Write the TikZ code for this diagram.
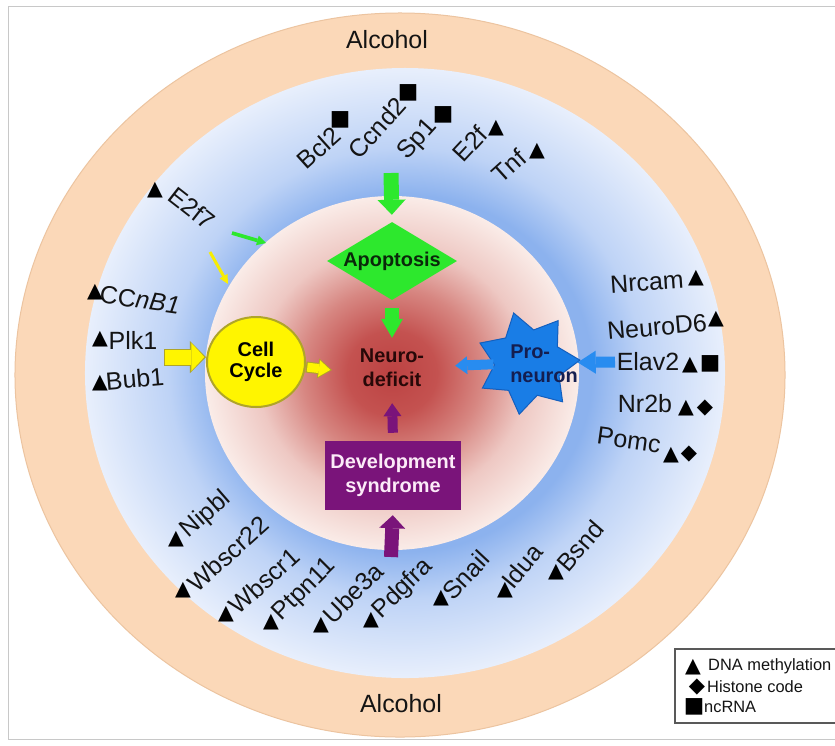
\documentclass[tikz,border=0pt]{standalone}
\usepackage{fontspec}
\setmainfont{Liberation Sans}
\newfontfamily\symf{DejaVu Sans}
\usetikzlibrary{arrows.meta,shapes.geometric}

\definecolor{peach}{RGB}{251,216,184}
\definecolor{peachD}{RGB}{236,196,160}
\definecolor{blueIn}{RGB}{140,178,238}
\definecolor{blueMid}{RGB}{190,211,246}
\definecolor{blueOut}{RGB}{232,239,252}
\definecolor{redC}{RGB}{188,66,66}
\definecolor{redA}{RGB}{196,82,80}
\definecolor{redM}{RGB}{215,135,130}
\definecolor{pinkL}{RGB}{238,200,195}
\definecolor{pinkE}{RGB}{250,236,232}
\definecolor{grn}{RGB}{45,232,45}
\definecolor{ylw}{RGB}{255,245,0}
\definecolor{olv}{RGB}{175,165,40}
\definecolor{bstar}{RGB}{25,125,230}
\definecolor{bstarD}{RGB}{20,95,190}
\definecolor{barr}{RGB}{40,140,240}
\definecolor{purp}{RGB}{122,20,122}
\definecolor{txt}{RGB}{20,20,20}
\definecolor{ndtext}{RGB}{40,8,8}
\definecolor{apotext}{RGB}{10,40,10}
\definecolor{pntext}{RGB}{20,30,80}
\definecolor{devtext}{RGB}{252,235,248}
\definecolor{framegray}{RGB}{200,200,200}

\pgfdeclareradialshading{bluering}{\pgfpoint{0bp}{0bp}}{%
  color(0bp)=(blueIn); color(14.6bp)=(blueIn); color(18.5bp)=(blueMid); color(25bp)=(blueOut); color(50bp)=(blueOut)}
\pgfdeclareradialshading{pinkcore}{\pgfpoint{0bp}{0bp}}{%
  color(0bp)=(redC); color(6bp)=(redA); color(12bp)=(redM); color(18bp)=(pinkL); color(25bp)=(pinkE); color(50bp)=(pinkE)}

\begin{document}
\begin{tikzpicture}[x=0.03cm,y=-0.03cm,
  gene/.style={font=\fontsize{21.3}{24}\selectfont, text=txt, inner sep=0pt},
  tri/.style={font=\symf\fontsize{17.5}{17.5}\selectfont, text=black, inner sep=0pt},
  sqr/.style={font=\symf\fontsize{18.5}{18.5}\selectfont, text=black, inner sep=0pt},
  dia/.style={font=\symf\fontsize{18}{18}\selectfont, text=black, inner sep=0pt},
  lab/.style={font=\bfseries\fontsize{17}{20.5}\selectfont, align=center, inner sep=0pt},
  leg/.style={font=\fontsize{14}{16}\selectfont, text=txt, inner sep=0pt, anchor=west},
  gA/.style={draw=grn, line width=0.45cm, -{Triangle[length=0.45cm,width=0.84cm,line width=0pt]}},
  gB/.style={draw=grn, line width=0.42cm, -{Triangle[length=0.57cm,width=0.66cm,line width=0pt]}},
  pA/.style={draw=purp, line width=0.30cm, -{Triangle[length=0.39cm,width=0.54cm,line width=0pt]}},
  pB/.style={draw=purp, line width=0.42cm, -{Triangle[length=0.39cm,width=0.78cm,line width=0pt]}},
  yAo/.style={draw=olv, line width=0.51cm, -{Triangle[length=0.48cm,width=0.96cm,line width=0pt]}},
  yA/.style={draw=ylw, line width=0.45cm, -{Triangle[length=0.39cm,width=0.84cm,line width=0pt]}},
  yBo/.style={draw=olv, line width=0.33cm, -{Triangle[length=0.42cm,width=0.60cm,line width=0pt]}},
  yB/.style={draw=ylw, line width=0.27cm, -{Triangle[length=0.34cm,width=0.50cm,line width=0pt]}},
  bA/.style={draw=barr, line width=0.33cm, -{Triangle[length=0.54cm,width=0.69cm,line width=0pt]}},
  bB/.style={draw=barr, line width=0.30cm, -{Triangle[length=0.36cm,width=0.54cm,line width=0pt]}},
  sgA/.style={draw=grn, line width=0.11cm, -{Triangle[length=0.27cm,width=0.30cm,line width=0pt]}},
  syA/.style={draw=ylw!90!olv, line width=0.09cm, -{Triangle[length=0.27cm,width=0.27cm,line width=0pt]}},
 ]
\useasboundingbox (0,0) rectangle (835,745);
\fill[white] (0,0) rectangle (835,745);
\draw[framegray, line width=0.03cm] (8,6) rectangle (850,739);

% rings
\fill[peach, draw=peachD, line width=0.03cm] (400,375) ellipse [x radius=11.55cm, y radius=10.86cm];
\shade[shading=bluering] (405,373) ellipse [x radius=9.6cm, y radius=9.15cm];
\shade[shading=pinkcore] (392,373) ellipse [x radius=5.61cm, y radius=5.31cm];

% Alcohol
\node[gene] (alc1) at (387,40) {Alcohol};
\node[gene] (alc2) at (401,704) {Alcohol};

% central nodes
\node[diamond, aspect=1.67, fill=grn, lab, text=apotext, minimum width=3.9cm, minimum height=2.34cm] (apop) at (392,261) {Apoptosis};
\node[ellipse, fill=ylw, draw=olv, line width=0.06cm, minimum width=2.94cm, minimum height=2.7cm, lab, font=\bfseries\fontsize{17}{18.5}\selectfont, text=black] (cc) at (256,362) {Cell\\Cycle};
\node[star, star points=7, star point ratio=1.55, minimum size=3.12cm, inner sep=0pt, fill=bstar, draw=bstarD, line width=0.03cm, shape border rotate=16] (pn) at (528,363) {};
\node[lab, text=pntext, align=left] (pnl) at (544,364) {Pro-\\neuron};
\node[lab, text=ndtext, minimum width=2.1cm, minimum height=1.68cm] (nd) at (392,368) {Neuro-\\deficit};
\node[rectangle, fill=purp, lab, text=devtext, minimum width=4.08cm, minimum height=2.07cm] (dev) at (393,475.5) {Development\\syndrome};

% arrows
\coordinate (gtop) at (391,173);
\draw[gA, shorten >=0.21cm] (gtop) -- (apop.north);
\draw[gB, shorten <=0.24cm, shorten >=0.06cm] (apop.south) -- (nd.north);
\draw[pA, shorten <=0.24cm, shorten >=0.21cm] (dev.north) -- (nd.south);
\coordinate (pbot) at (391,557);
\draw[pB, shorten >=0.15cm] (pbot) -- (dev.south);
\coordinate (yl) at (165,357);
\draw[yAo, shorten <=-0.03cm] (yl) -- ([yshift=0.15cm]cc.west);
\draw[yA, shorten >=0.05cm] (yl) -- ([yshift=0.15cm]cc.west);
\draw[yBo, shorten >=0.75cm] ([yshift=-0.15cm]cc.east) -- ([yshift=-0.15cm]nd.west);
\draw[yB, shorten >=0.8cm, shorten <=0.04cm] ([yshift=-0.15cm]cc.east) -- ([yshift=-0.15cm]nd.west);
\coordinate (bin) at (615,362);
\draw[bA] (bin) -- (pn);
\draw[bB, shorten >=0.84cm] (pn) -- (nd);
\coordinate (sg1) at (232,233);
\coordinate (sg2) at (266,243);
\draw[sgA] (sg1) -- (sg2);
\coordinate (sy1) at (210,252);
\coordinate (sy2) at (228,284);
\draw[syA] (sy1) -- (sy2);

% top genes
\node[gene, rotate=42] (bcl2) at (319,148) {Bcl2};
\node[sqr] (bcl2s) at (340,120) {■};
\node[gene, rotate=48] (ccnd2) at (377,128) {Ccnd2};
\node[sqr] (ccnd2s) at (408,93) {■};
\node[gene, rotate=48] (sp1) at (418,140) {Sp1};
\node[sqr] (sp1s) at (443,115) {■};
\node[gene, rotate=47] (e2f) at (470,144) {E2f};
\node[tri] (e2ft) at (496,128) {▲};
\node[gene, rotate=42] (tnf) at (509,166) {Tnf};
\node[tri] (tnft) at (537,151) {▲};
\node[gene, rotate=-38] (e2f7) at (192,208) {E2f7};
\node[tri] (e2f7t) at (155,190) {▲};

% left genes
\node[gene, rotate=-8] (ccnb1) at (140,300) {CC\textit{nB1}};
\node[tri] (ccnb1t) at (95,292) {▲};
\node[gene] (plk1) at (133,340) {Plk1};
\node[tri] (plk1t) at (100,339) {▲};
\node[gene, rotate=5] (bub1) at (135,379) {Bub1};
\node[tri] (bub1t) at (100,383) {▲};

% right genes
\node[gene, rotate=4] (nrcam) at (647,282) {Nrcam};
\node[tri] (nrcamt) at (696,278) {▲};
\node[gene, rotate=5] (neurod6) at (657,327) {NeuroD6};
\node[tri] (neurod6t) at (716,319) {▲};
\node[gene] (elav2) at (648,362) {Elav2};
\node[tri] (elav2t) at (690,365) {▲};
\node[sqr] (elav2s) at (710,364) {■};
\node[gene] (nr2b) at (645,404) {Nr2b};
\node[tri] (nr2bt) at (686,408) {▲};
\node[dia] (nr2bd) at (705,408) {◆};
\node[gene, rotate=-8] (pomc) at (629,440) {Pomc};
\node[tri] (pomct) at (671,455) {▲};
\node[dia] (pomcd) at (689,454) {◆};

% bottom genes
\node[gene, rotate=41] (nipbl) at (206,515) {Nipbl};
\node[tri] (nipblt) at (176,539) {▲};
\node[gene, rotate=42] (wbscr22) at (228,554) {Wbscr22};
\node[tri] (wbscr22t) at (183,590) {▲};
\node[gene, rotate=42] (wbscr1) at (264,581) {Wbscr1};
\node[tri] (wbscr1t) at (226,614) {▲};
\node[gene, rotate=45] (ptpn11) at (305,590) {Ptpn11};
\node[tri] (ptpn11t) at (271,622) {▲};
\node[gene, rotate=45] (ube3a) at (353,593) {Ube3a};
\node[tri] (ube3at) at (321,625) {▲};
\node[gene, rotate=44] (pdgfra) at (403,589) {Pdgfra};
\node[tri] (pdgfrat) at (371,620) {▲};
\node[gene, rotate=47] (snail) at (466,575) {Snail};
\node[tri] (snailt) at (441,598) {▲};
\node[gene, rotate=50] (idua) at (522,566) {Idua};
\node[tri] (iduat) at (505,590) {▲};
\node[gene, rotate=49] (bsnd) at (580,546) {Bsnd};
\node[tri] (bsndt) at (556,572) {▲};

% legend
\draw[fill=white, draw=black!65, line width=0.04cm] (675,649) rectangle (850,723);
\node[tri] (lt) at (693,667) {▲};
\node[leg] (lt1) at (708,666) {DNA methylation};
\node[dia] (ld) at (697,687) {◆};
\node[leg] (ld1) at (707,687) {Histone code};
\node[sqr] (ls) at (694,707) {■};
\node[leg] (ls1) at (704,707) {ncRNA};
\end{tikzpicture}
\end{document}
